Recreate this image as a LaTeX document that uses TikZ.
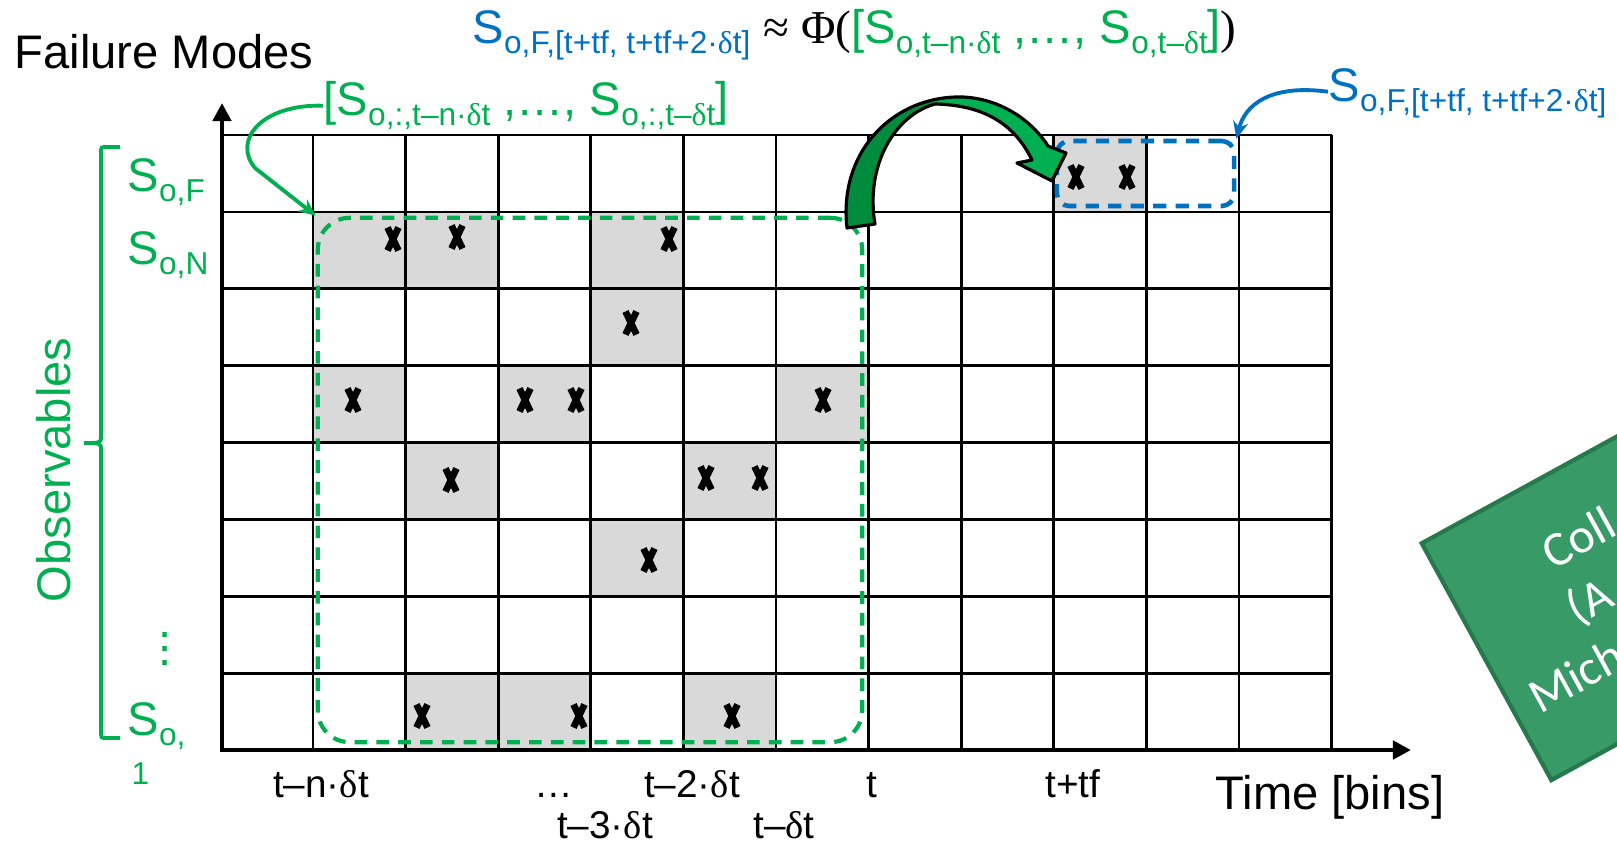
\documentclass[tikz,border=0pt]{standalone}
\usepackage{fontspec}
\setmainfont{Liberation Sans}
\newfontfamily\timesfont{Liberation Serif}
\newfontfamily\notefont{Carlito}
\usetikzlibrary{arrows.meta}

\definecolor{obsgreen}{HTML}{00B050}
\definecolor{predblue}{HTML}{0070C0}
\definecolor{cellgray}{HTML}{D9D9D9}
\definecolor{arrowdark}{HTML}{008C3C}
\definecolor{notegreen}{HTML}{389A67}
\definecolor{noteedge}{HTML}{26794C}

\newcommand{\dlt}{{\timesfont δ}t}
\newcommand{\Ssub}[1]{S\raisebox{-3pt}{\fontsize{9}{10}\selectfont #1}}
\newcommand{\turnarrow}{(847,228) .. controls (838,150) and (895,95) .. (963,97) .. controls (1005,99) and (1035,125) .. (1048,146) -- (1066,153) -- (1052,181) -- (1017,163) -- (1032,160) .. controls (1015,125) and (985,105) .. (935,104) .. controls (895,115) and (865,165) .. (875,224) -- cycle}

\begin{document}
\begin{tikzpicture}[x=0.01cm, y=-0.01cm,
	gridline/.style={line width=0.75pt},
	axis/.style={line width=1.4pt, {Triangle[length=0.18cm, width=0.18cm]}-{Triangle[length=0.18cm, width=0.18cm]}},
	window/.style={draw=obsgreen, line width=1.2pt, dash pattern=on 3.6pt off 2.6pt, rounded corners=9pt, inner sep=0pt},
	target/.style={draw=predblue, line width=1.3pt, dash pattern=on 3.8pt off 2.6pt, rounded corners=3.5pt, inner sep=0pt},
	big/.style={font=\fontsize{13.4}{16}\selectfont, inner sep=0pt},
	tick/.style={font=\fontsize{11}{13}\selectfont, inner sep=0pt, anchor=base},
	pointer/.style={line width=1.1pt, -{Stealth[length=0.17cm, width=0.15cm]}},
	note/.style={font=\notefont\fontsize{14}{17}\selectfont, text=white, inner sep=0pt, anchor=base west},
	xcross/.pic={\draw[line width=1.9pt] (-5.5,-11.5) -- (5.5,11.5) (-5.5,11.5) -- (5.5,-11.5);}]
	\useasboundingbox (0,0) rectangle (1617,845);

	% observed cells
	\foreach \c/\r in {10/1, 2/2, 3/2, 5/2, 5/3, 2/4, 4/4, 7/4, 3/5, 6/5, 5/6, 3/8, 4/8, 6/8}
		\fill[cellgray] ({220.4+92.6*(\c-1)},{135+76.9*(\r-1)}) rectangle ++(92.6,76.9);

	% grid
	\foreach \c in {1,...,12}
		\draw[gridline] ({220.4+92.6*\c},135) -- ({220.4+92.6*\c},750);
	\foreach \r in {0,...,7}
		\draw[gridline] (222,{135+76.9*\r}) -- (1332,{135+76.9*\r});

	% windows
	\node[window, minimum width=5.44cm, minimum height=5.24cm] (past) at (590,480) {};
	\node[target, minimum width=1.77cm, minimum height=0.65cm] (future) at (1145.5,173.5) {};

	% failure events
	\foreach \x/\y in {1076/177, 1127/177, 393/239, 457/237, 669/239, 631/323,
		353/400, 525/400, 576/400, 823/400, 451/480, 706/478, 760/478,
		649/560, 422/716, 579/716, 732/716}
		\pic at (\x,\y) {xcross};

	% axes
	\coordinate (origin) at (222,750);
	\coordinate (ytip) at (222,103);
	\coordinate (xtip) at (1411,750);
	\draw[axis] (ytip) -- (origin) -- (xtip);

	% prediction arrow
	\fill[obsgreen] \turnarrow;
	\begin{scope}
		\clip (800,80) rectangle (932,240);
		\fill[arrowdark] \turnarrow;
	\end{scope}
	\draw[line width=0.9pt, line join=round] \turnarrow;

	% labels
	\node[big, anchor=west] (fm) at (14,52) {Failure Modes};
	\node[big, anchor=base west] (formula) at (472,43) {\color{predblue}\Ssub{o,F,[t+tf, t+tf+2·\dlt]} {\timesfont\color{black} ≈ Φ(}\color{obsgreen}[\Ssub{o,t–n·\dlt} ,…, \Ssub{o,t–\dlt}]{\color{black}\timesfont)}};
	\node[big, anchor=base west, text=obsgreen] (winlabel) at (323,115) {[\Ssub{o,:,t–n·\dlt} ,…, \Ssub{o,:,t–\dlt}]};
	\node[big, anchor=base west, text=predblue] (futlabel) at (1328,101) {\Ssub{o,F,[t+tf, t+tf+2·\dlt]}};
	\draw[pointer, obsgreen] (winlabel.mid west) .. controls (262,104) and (232,140) .. (255,168) -- (past.north west);
	\draw[pointer, predblue] (futlabel.mid west) .. controls (1270,84) and (1245,105) .. (future.north east);

	\node[big, rotate=90, text=obsgreen] (obs) at (54,470) {Observables};
	\draw[obsgreen, line width=1.1pt] (120,147) -- (107,147) .. controls (101,147) .. (101,153) -- (101,436)
		.. controls (101,443) .. (84,443) .. controls (101,443) .. (101,450) -- (101,732)
		.. controls (101,738) .. (107,738) -- (120,738);
	\node[big, anchor=base west, text=obsgreen] (sF) at (127,191) {\Ssub{o,F}};
	\node[big, anchor=base west, text=obsgreen] (sN) at (127,264) {\Ssub{o,N}};
	\node[big, text=obsgreen] (sdots) at (165,638) {$\vdots$};
	\node[big, anchor=base west, text=obsgreen] (s1) at (127,735) {\Ssub{o,}};
	\node[anchor=base west, text=obsgreen, font=\fontsize{9}{10}\selectfont, inner sep=0pt] (s1idx) at (131,784) {1};

	\node[tick] (tn) at (321,797) {t–n·\dlt};
	\node[tick] (tdots) at (554,797) {…};
	\node[tick] (t2) at (692,797) {t–2·\dlt};
	\node[tick] (t0) at (872,797) {t};
	\node[tick] (ttf) at (1073,797) {t+tf};
	\node[tick] (t3) at (605,838) {t–3·\dlt};
	\node[tick] (t1) at (784,838) {t–\dlt};
	\node[big] (time) at (1330,797) {Time [bins]};

	% note card at the edge
	\begin{scope}
		\clip (0,0) rectangle (1617,845);
		\begin{scope}[shift={(1421.7,543.3)}, rotate=28.7, transform shape]
			\draw[fill=notegreen, draw=noteedge, line width=1.2pt] (0,0) rectangle (420,270);
			\node[note] (n1) at (102,87) {Coll};
			\node[note] (n2) at (97,147) {(A};
			\node[note] (n3) at (21,207) {Mich};
		\end{scope}
	\end{scope}
\end{tikzpicture}
\end{document}
